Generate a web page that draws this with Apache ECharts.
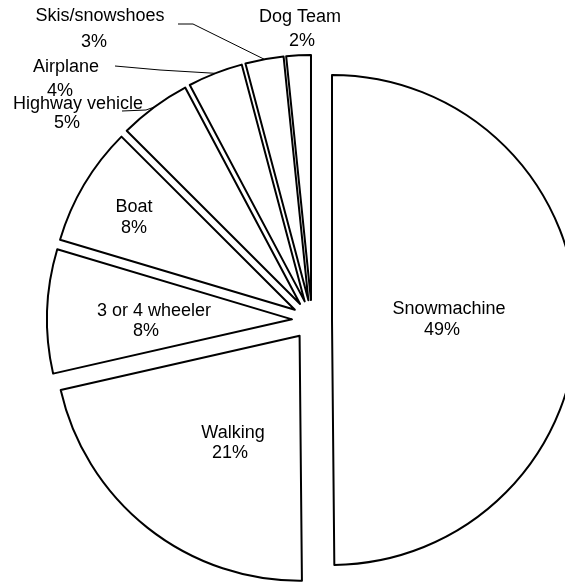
<!DOCTYPE html>
<html>
<head>
<meta charset="utf-8">
<script src="https://cdn.jsdelivr.net/npm/echarts@6/dist/echarts.min.js"></script>
<style>
  html, body { margin: 0; padding: 0; background: #fff; }
  #chart { width: 565px; height: 583px; }
</style>
</head>
<body>
<div id="chart"></div>
<script>
// slices, clockwise from 12 o'clock
const modes = ['Snowmachine', 'Walking', '3 or 4 wheeler', 'Boat', 'Highway vehicle', 'Airplane', 'Skis/snowshoes', 'Dog Team'];
// share of trips in % (printed labels are these rounded)
const shares = [49.4, 21.4, 8.1, 7.8, 4.7, 3.6, 2.5, 1.6];

// labels sitting outside the pie, and those of them drawn with a leader line
const outside = ['Highway vehicle', 'Airplane', 'Skis/snowshoes', 'Dog Team'];
const withLeader = ['Highway vehicle', 'Airplane', 'Skis/snowshoes'];

// label block: centre x, centre y, line height, shift of the % line to the left
const labelBox = {
  'Snowmachine': [449, 320, 21, 7],
  'Walking': [233, 443, 20, 3],
  '3 or 4 wheeler': [154, 321, 20, 8],
  'Boat': [134, 218, 21, 0],
  'Highway vehicle': [78, 114, 19, 11],
  'Airplane': [66, 79, 24, 6],
  'Skis/snowshoes': [100, 29, 26, 6],
  'Dog Team': [300, 29, 24, -2]
};
// leader line bend / end points
const leaderTail = {
  'Highway vehicle': [[146, 110], [122, 111]],
  'Airplane': [[160, 70], [115, 66]],
  'Skis/snowshoes': [[193, 24], [178, 24]]
};

const CENTER = [312, 320];
const R = 245;
const EXPLODE = 20;

const chart = echarts.init(document.getElementById('chart'));

const baseStyle = { color: '#fff', borderColor: '#000', borderWidth: 2 };
const font = '"Liberation Sans", Arial, sans-serif';

// exploded slices
const sliceData = modes.map((m, i) => ({ name: m, value: shares[i], selected: true }));

// labels go on a transparent copy of the pie (label x/y don't stick on selected slices)
const labelData = modes.map((m, i) => {
  const b = labelBox[m];
  const pad = b[3] >= 0 ? [0, 2 * b[3], 0, 0] : [0, 0, 0, -2 * b[3]];
  return {
    name: m,
    value: shares[i],
    label: {
      position: outside.includes(m) ? 'outside' : 'inside',
      rich: {
        n: { lineHeight: b[2] },
        p: { lineHeight: b[2], padding: pad }
      }
    },
    labelLine: { show: withLeader.includes(m) }
  };
});

chart.setOption({
  animation: false,
  backgroundColor: '#fff',
  series: [
    {
      type: 'pie',
      center: CENTER,
      radius: R,
      startAngle: 90,
      clockwise: true,
      selectedMode: 'multiple',
      selectedOffset: EXPLODE,
      avoidLabelOverlap: false,
      itemStyle: baseStyle,
      emphasis: { disabled: true },
      select: { itemStyle: baseStyle },
      label: { show: false },
      labelLine: { show: false },
      data: sliceData
    },
    {
      type: 'pie',
      center: CENTER,
      radius: R + EXPLODE,
      startAngle: 90,
      clockwise: true,
      silent: true,
      selectedMode: false,
      avoidLabelOverlap: false,
      itemStyle: { color: 'rgba(0,0,0,0)', borderWidth: 0 },
      emphasis: { disabled: true },
      label: {
        show: true,
        formatter: p => '{n|' + p.name + '}\n{p|' + Math.round(p.value) + '%}',
        color: '#000',
        fontFamily: font,
        fontSize: 18,
        align: 'center',
        rich: {
          n: { fontFamily: font, fontSize: 18, color: '#000', align: 'center' },
          p: { fontFamily: font, fontSize: 18, color: '#000', align: 'center' }
        }
      },
      labelLine: {
        show: true,
        length: 10,
        length2: 10,
        lineStyle: { color: '#000', width: 1 }
      },
      labelLayout: function (params) {
        const name = modes[params.dataIndex];
        const b = labelBox[name];
        const res = { x: b[0], y: b[1], align: 'center', verticalAlign: 'middle' };
        if (leaderTail[name] && params.labelLinePoints) {
          res.labelLinePoints = [params.labelLinePoints[0], leaderTail[name][0], leaderTail[name][1]];
        }
        return res;
      },
      data: labelData
    }
  ]
});
</script>
</body>
</html>
